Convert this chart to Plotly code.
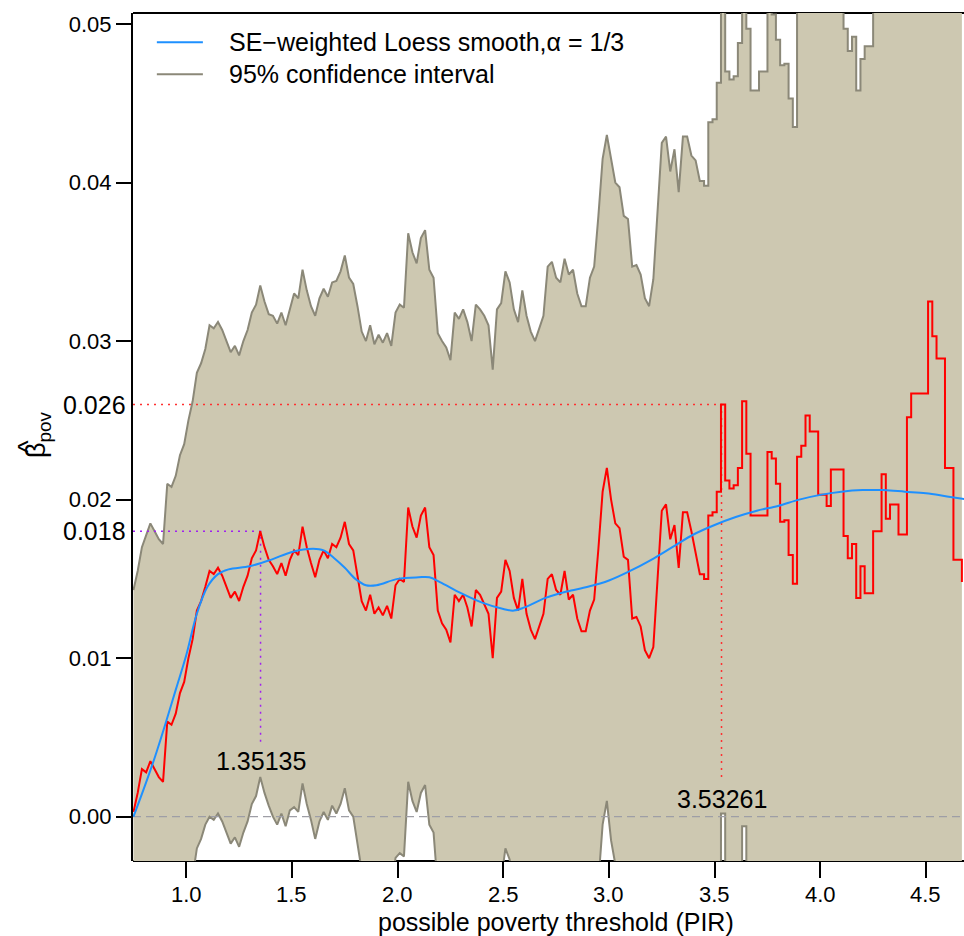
import numpy as np
import plotly.graph_objects as go

# ---------------- data ----------------
x_start, x_step = 0.75, 0.02
# estimated beta_pov for each possible poverty threshold
beta_est = [
    0.0003, 0.0015, 0.0030, 0.0028, 0.0035, 0.0030, 0.0025, 0.0022, 0.0060, 0.0058,
    0.0065, 0.0078, 0.0085, 0.0100, 0.0112, 0.0130, 0.0136, 0.0145, 0.0155, 0.0153,
    0.0157, 0.0152, 0.0145, 0.0138, 0.0142, 0.0136, 0.0145, 0.0152, 0.0163, 0.0168,
    0.0180, 0.0170, 0.0162, 0.0158, 0.0153, 0.0160, 0.0152, 0.0162, 0.0168, 0.0165,
    0.0183, 0.0170, 0.0160, 0.0151, 0.0162, 0.0168, 0.0163, 0.0172, 0.0170, 0.0176,
    0.0186, 0.0172, 0.0168, 0.0152, 0.0136, 0.0130, 0.0140, 0.0128, 0.0132, 0.0127,
    0.0133, 0.0125, 0.0146, 0.0150, 0.0148, 0.0195, 0.0183, 0.0176, 0.0190, 0.0195,
    0.0170, 0.0165, 0.0130, 0.0122, 0.0118, 0.0110, 0.0140, 0.0136, 0.0140, 0.0132,
    0.0120, 0.0143, 0.0140, 0.0134, 0.0128, 0.0100, 0.0138, 0.0142, 0.0162, 0.0155,
    0.0138, 0.0130, 0.0150, 0.0128, 0.0118, 0.0112, 0.0120, 0.0128, 0.0150, 0.0153,
    0.0143, 0.0140, 0.0155, 0.0137, 0.0140, 0.0125, 0.0117, 0.0117, 0.0130, 0.0137,
    0.0169, 0.0205, 0.0220, 0.0200, 0.0185, 0.0182, 0.0164, 0.0162, 0.0125, 0.0126,
    0.0120, 0.0105, 0.0100, 0.0107, 0.0150, 0.0193, 0.0197, 0.0175, 0.0184, 0.0157,
    0.0192, 0.0192, 0.0180, 0.0166, 0.0153, 0.0150, 0.0190, 0.0192, 0.0205, 0.0260,
    0.0212, 0.0207, 0.0209, 0.0220, 0.0262, 0.0229, 0.0190, 0.0190, 0.0190, 0.0190,
    0.0230, 0.0226, 0.0210, 0.0186, 0.0187, 0.0165, 0.0147, 0.0227, 0.0234, 0.0253,
    0.0243, 0.0243, 0.0203, 0.0203, 0.0196, 0.0219, 0.0219, 0.0219, 0.0177, 0.0163,
    0.0172, 0.0138, 0.0158, 0.0141, 0.0141, 0.0180, 0.0180, 0.0216, 0.0188, 0.0197,
    0.0197, 0.0178, 0.0178, 0.0252, 0.0267, 0.0267, 0.0267, 0.0267, 0.0325, 0.0303,
    0.0289, 0.0289, 0.0220, 0.0220, 0.0162, 0.0162, 0.0148,
]
# half-width of the 95% CI, per 0.1-wide PIR bin (bins start at 0.7)
ci_bin_edges_start, ci_bin_width = 0.7, 0.1
ci_halfwidth = [
    0.0140, 0.0150, 0.0150, 0.0150, 0.0155, 0.0155, 0.0155, 0.0158, 0.0162, 0.0165,
    0.0168, 0.0170, 0.0172, 0.0173, 0.0175, 0.0178, 0.0180, 0.0182, 0.0182, 0.0188,
    0.0197, 0.0205, 0.0210, 0.0215, 0.0222, 0.0232, 0.0237, 0.0248, 0.0258, 0.0268,
    0.0280, 0.0288, 0.0305, 0.0315, 0.0320, 0.0345, 0.0340, 0.0345, 0.0360, 0.0370,
]
# beyond this PIR the estimate is drawn as visible steps (sparser data)
step_from_x = 3.43
# SE-weighted loess smooth
loess_x = [0.75, 0.80, 0.85, 0.90, 0.95, 1.00, 1.05, 1.10, 1.15, 1.20, 1.30, 1.40,
           1.50, 1.60, 1.65, 1.70, 1.75, 1.80, 1.85, 1.90, 2.00, 2.10, 2.15, 2.20,
           2.30, 2.40, 2.50, 2.55, 2.60, 2.70, 2.80, 2.90, 3.00, 3.10, 3.20, 3.30,
           3.40, 3.50, 3.60, 3.70, 3.80, 3.90, 4.00, 4.10, 4.20, 4.30, 4.40, 4.50,
           4.60, 4.70]
loess_y = [0.0000, 0.0018, 0.0037, 0.0058, 0.0080, 0.0102, 0.0128, 0.0145, 0.0153,
           0.0156, 0.0158, 0.0162, 0.0167, 0.0169, 0.0168, 0.0163, 0.0157, 0.0150,
           0.0146, 0.0146, 0.0150, 0.0151, 0.0151, 0.0148, 0.0141, 0.0135, 0.0131,
           0.0130, 0.0132, 0.0138, 0.0142, 0.0145, 0.0149, 0.0155, 0.0162, 0.0170,
           0.0178, 0.0184, 0.0189, 0.0193, 0.0196, 0.0200, 0.0203, 0.0205, 0.0206,
           0.0206, 0.0205, 0.0204, 0.0202, 0.0200]
# marked maxima
marker_x = [1.35135, 3.53261]
marker_y = [0.018, 0.026]
marker_labels = ["1.35135", "3.53261"]
marker_ylabels = ["0.018", "0.026"]
marker_colors = ["#A020F0", "#FF3030"]
marker_label_y = [0.0035, 0.0011]
marker_vline_end = [0.0046, 0.0022]

y_ticks = [0.00, 0.01, 0.02, 0.03, 0.04, 0.05]
y_ticktext = ["0.00", "0.01", "0.02", "0.03", "0.04", "0.05"]
x_ticks = [1.0, 1.5, 2.0, 2.5, 3.0, 3.5, 4.0, 4.5]
x_ticktext = ["1.0", "1.5", "2.0", "2.5", "3.0", "3.5", "4.0", "4.5"]
x_range = [0.7478, 4.680]
y_range = [-0.002794, 0.050694]

# ---------------- derived ----------------
x_grid = np.round(x_start + x_step * np.arange(len(beta_est)), 4)
est = np.array(beta_est)
hw_idx = np.floor((x_grid - ci_bin_edges_start) / ci_bin_width + 1e-9).astype(int)
hw = np.array(ci_halfwidth)[hw_idx]
upper = est + hw
lower = est - hw


def path(xs, ys):
    """Plain polyline before step_from_x, horizontal-then-vertical steps after."""
    px, py = [], []
    for i in range(len(xs)):
        px.append(xs[i]); py.append(ys[i])
        if xs[i] >= step_from_x - 1e-9 and i + 1 < len(xs):
            px.append(xs[i + 1]); py.append(ys[i])
    return px, py


FILL = "#CDC8B1"
EDGE = "#8B8878"
FONT = "Liberation Sans, Arial, Helvetica, sans-serif"

fig = go.Figure()
lx, ly = path(x_grid, lower)
ux, uy = path(x_grid, upper)
fig.add_trace(go.Scatter(x=lx, y=ly, mode="lines", line=dict(color=EDGE, width=2),
                         showlegend=False, hoverinfo="skip"))
fig.add_trace(go.Scatter(x=ux, y=uy, mode="lines", fill="tonexty", fillcolor=FILL,
                         line=dict(color=EDGE, width=2),
                         showlegend=False, hoverinfo="skip"))
# zero reference line
fig.add_trace(go.Scatter(x=x_range, y=[0, 0], mode="lines",
                         line=dict(color="#9E9EA6", width=1.3, dash="8px,5px"),
                         showlegend=False, hoverinfo="skip"))
# dotted guides for the maxima
for mx, my, col, yend in zip(marker_x, marker_y, marker_colors, marker_vline_end):
    fig.add_trace(go.Scatter(x=[x_range[0], mx, mx], y=[my, my, yend], mode="lines",
                             line=dict(color=col, width=1.5, dash="2px,5px"),
                             showlegend=False, hoverinfo="skip"))
ex, ey = path(x_grid, est)
fig.add_trace(go.Scatter(x=ex, y=ey, mode="lines", line=dict(color="#FF0000", width=2),
                         showlegend=False))
fig.add_trace(go.Scatter(x=loess_x, y=loess_y, mode="lines",
                         line=dict(color="#1E90FF", width=2, shape="spline"),
                         showlegend=False))

# box lines (under the band, visible only in gaps)
for yy in [0, 1]:
    fig.add_shape(type="line", xref="paper", yref="paper", x0=0, x1=1, y0=yy, y1=yy,
                  line=dict(color="black", width=2), layer="below")

annotations = []
# x tick labels (placed a little further from the ticks, as in the reference)
for xv, xt in zip(x_ticks, x_ticktext):
    annotations.append(dict(x=xv, y=-0.0395, xref="x", yref="paper", text=xt,
                            showarrow=False, xanchor="center", yanchor="middle",
                            font=dict(size=22, color="black", family=FONT)))
for mx, lab, lyy in zip(marker_x, marker_labels, marker_label_y):
    annotations.append(dict(x=mx, y=lyy, xref="x", yref="y", text=lab, showarrow=False,
                            font=dict(size=25, color="black", family=FONT),
                            xanchor="center", yanchor="middle"))
for my, lab in zip(marker_y, marker_ylabels):
    annotations.append(dict(x=0, y=my, xref="paper", yref="y", text=lab, showarrow=False,
                            font=dict(size=25, color="black", family=FONT),
                            xanchor="right", yanchor="middle", xshift=-5))
# axis titles
annotations.append(dict(x=0.509, y=-0.072, xref="paper", yref="paper",
                        text="possible poverty threshold (PIR)", showarrow=False,
                        font=dict(size=25, color="black", family=FONT),
                        xanchor="center", yanchor="middle"))
annotations.append(dict(x=0, y=0.5024, xref="paper", yref="paper", xshift=-95,
                        text="β<sub>pov</sub>", showarrow=False, textangle=-90,
                        font=dict(size=27, color="black", family=FONT),
                        xanchor="center", yanchor="middle"))
annotations.append(dict(x=0, y=0.5024, xref="paper", yref="paper", xshift=-105, yshift=-12,
                        text="^", showarrow=False, textangle=-90,
                        font=dict(size=27, color="black", family=FONT),
                        xanchor="center", yanchor="middle"))
# legend
legend_items = [("SE\u2212weighted Loess smooth,\u03b1 = 1/3", "#1E90FF"),
                ("95% confidence interval", EDGE)]
for i, (lab, col) in enumerate(legend_items):
    yy = 0.9655 - i * 0.0378
    fig.add_shape(type="line", xref="paper", yref="paper", x0=0.0287, x1=0.0841,
                  y0=yy, y1=yy, line=dict(color=col, width=2))
    annotations.append(dict(x=0.1126, y=yy, xref="paper", yref="paper", text=lab,
                            showarrow=False, xanchor="left", yanchor="middle",
                            font=dict(size=25, color="black", family=FONT)))

fig.update_layout(
    width=964, height=936,
    margin=dict(l=133, r=0, t=13, b=75),
    paper_bgcolor="white", plot_bgcolor="white",
    showlegend=False,
    font=dict(family=FONT, color="black"),
    annotations=annotations,
    xaxis=dict(range=x_range, tickvals=x_ticks, showticklabels=False,
               ticks="outside", ticklen=16, tickwidth=1.5, tickcolor="black",
               showline=False, showgrid=False, zeroline=False),
    yaxis=dict(range=y_range, tickvals=y_ticks, ticktext=y_ticktext,
               ticks="outside", ticklen=15, tickwidth=1.5, tickcolor="black",
               showline=True, linecolor="black", linewidth=2,
               showgrid=False, zeroline=False,
               tickfont=dict(size=22, color="black", family=FONT)),
)

fig.write_html("out.html", config={"displayModeBar": False},
               post_script="document.body.style.margin='0';"
                           "document.body.style.overflow='hidden';")
